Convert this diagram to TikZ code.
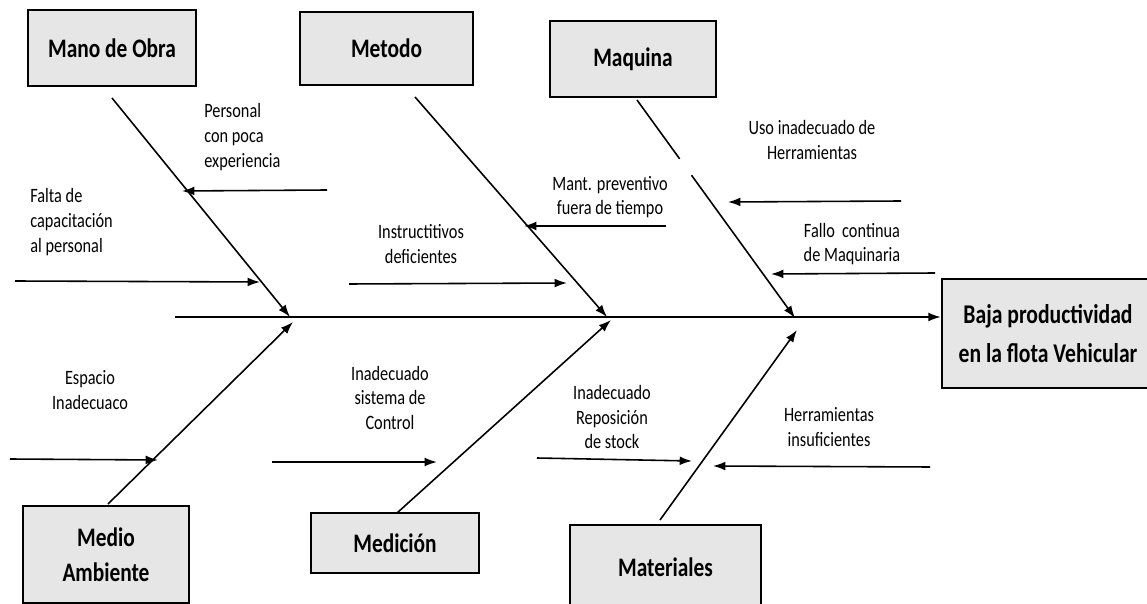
\documentclass[tikz,border=0pt]{standalone}
\usepackage{fontspec}
\setmainfont{Carlito}[FakeStretch=0.8]
\usetikzlibrary{positioning,arrows.meta,calc}
\definecolor{cajagris}{RGB}{230,230,230}
\tikzset{
  causa/.style={draw, line width=0.8, fill=cajagris, inner sep=0, align=center,
    font=\fontsize{15.2}{20}\selectfont\bfseries},
  nota/.style={inner sep=0, font=\fontsize{11.6}{14}\selectfont},
  hueso/.style={line width=0.9},
  espina/.style={line width=0.9, -{Latex[length=7pt,width=5pt]}}
}

\begin{document}
\begin{tikzpicture}[x=0.02cm, y=-0.02cm]
\useasboundingbox (0,0) rectangle (1147,604);

\node[causa, minimum width=3.36cm, minimum height=1.52cm] (mano) at (112,48) {Mano de Obra};
\node[causa, minimum width=3.46cm, minimum height=1.46cm] (metodo) at (386.5,48.5) {Metodo};
\node[causa, minimum width=3.32cm, minimum height=1.52cm] (maquina) at (633,59) {Maquina};
\node[causa, minimum width=3.32cm, minimum height=1.94cm] (medio) at (106,554.5) {Medio\\Ambiente};
\node[causa, minimum width=3.36cm, minimum height=1.2cm] (medicion) at (395,543) {Medición};
\node[causa, minimum width=3.82cm, minimum height=1.68cm] (materiales) at (665.5,567) {Materiales};
\node[causa, line width=1.5, minimum width=4.24cm, minimum height=2.18cm, font=\fontsize{15.4}{22}\selectfont\bfseries] (efecto) at (1048,333.5) {Baja productividad\\en la flota Vehicular};

\coordinate (cola) at (175,317);
\coordinate (b1) at (112,98);
\coordinate (j1) at (290,317);
\coordinate (b2) at (415,97);
\coordinate (j2) at (607,317);
\coordinate (b3) at (637,100);
\coordinate (j3) at (795,318);
\coordinate (b4) at (108,504);
\coordinate (j4) at (293,322);
\coordinate (b5) at (397,513);
\coordinate (j5) at (611,320);
\coordinate (b6) at (660,520);
\coordinate (j6) at (797,330);

\draw[espina] (cola) -- (cola -| efecto.west);
\draw[espina] (b1) -- (j1);
\draw[espina] (b2) -- (j2);
\draw[hueso] (b3) -- ($(b3)!0.27!(j3)$);
\draw[espina] ($(b3)!0.345!(j3)$) -- (j3);
\draw[espina] (b4) -- (j4);
\draw[espina] (b5) -- (j5);
\draw[espina] (b6) -- (j6);

\coordinate (p1) at (327,190);  \coordinate (q1) at (182,191);
\coordinate (p2) at (15,281);   \coordinate (q2) at (260,282);
\coordinate (p3) at (349,284);  \coordinate (q3) at (567,283);
\coordinate (p4) at (666,226);  \coordinate (q4) at (524,226);
\coordinate (p5) at (901,201);  \coordinate (q5) at (728,202);
\coordinate (p6) at (935,273);  \coordinate (q6) at (771,274);
\coordinate (p7) at (10,459);   \coordinate (q7) at (158,460);
\coordinate (p8) at (272,462);  \coordinate (q8) at (437,462);
\coordinate (p9) at (537,458);  \coordinate (q9) at (692,461);
\coordinate (p10) at (930,467); \coordinate (q10) at (713,466);

\draw[espina] (p1) -- (q1);
\draw[espina] (p2) -- (q2);
\draw[espina] (p3) -- (q3);
\draw[espina] (p4) -- (q4);
\draw[espina] (p5) -- (q5);
\draw[espina] (p6) -- (q6);
\draw[espina] (p7) -- (q7);
\draw[espina] (p8) -- (q8);
\draw[espina] (p9) -- (q9);
\draw[espina] (p10) -- (q10);

\node[nota, align=left, anchor=west] (n1) at (204,137) {Personal\\con poca\\experiencia};
\node[nota, align=left, anchor=west] (n2) at (30,222) {Falta de\\capacitación\\al personal};
\node[nota, align=center] (n3) at (421,244) {Instructitivos\\deficientes};
\node[nota, align=center] (n4) at (610,197) {Mant. preventivo\\fuera de tiempo};
\node[nota, align=center] (n5) at (812,140) {Uso inadecuado de\\Herramientas};
\node[nota, align=center] (n6) at (852,244) {Fallo~~continua\\de Maquinaria};
\node[nota, align=center] (n7) at (90,390) {Espacio\\Inadecuaco};
\node[nota, align=center] (n8) at (390,398) {Inadecuado\\sistema de\\Control};
\node[nota, align=center] (n9) at (612,417) {Inadecuado\\Reposición\\de stock};
\node[nota, align=center] (n10) at (829,427) {Herramientas\\insuficientes};
\end{tikzpicture}
\end{document}
